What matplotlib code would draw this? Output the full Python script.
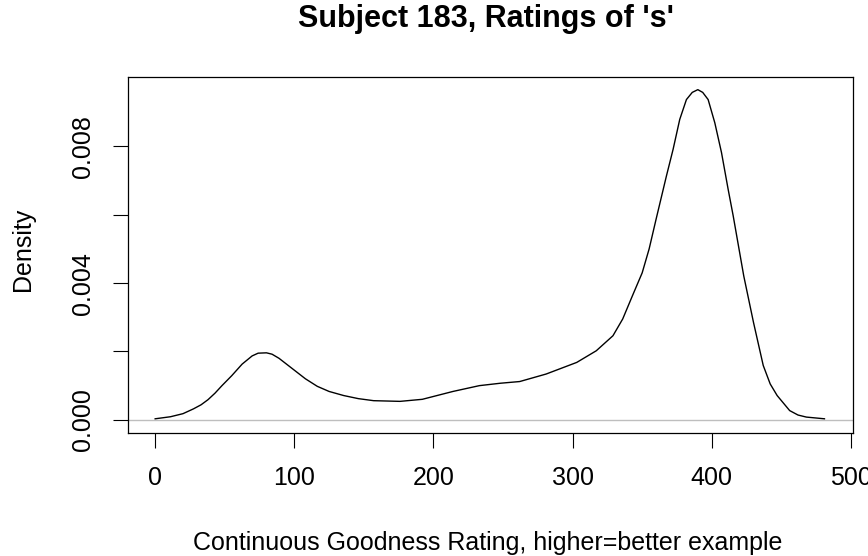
import numpy as np
import matplotlib.pyplot as plt

# density curve (rating, density x 1000)
rating = [0, 11, 20, 27.5, 33, 38, 43, 48, 55, 62.5, 69.7, 74, 80, 84, 89, 98.5,
          108, 116.5, 125, 135.5, 146, 157, 176, 192, 214, 233, 248, 262, 281, 303,
          317, 329, 336, 343, 350, 355, 360, 367.4, 372.2, 377, 381.8, 386, 390,
          393.5, 397.4, 402.2, 407, 411.8, 415.4, 423, 430, 437, 442, 447, 456,
          462, 468, 481]
density = [0.03, 0.09, 0.18, 0.32, 0.44, 0.59, 0.78, 1.00, 1.29, 1.63, 1.87, 1.95,
           1.96, 1.92, 1.80, 1.50, 1.20, 0.98, 0.83, 0.71, 0.62, 0.56, 0.54,
           0.60, 0.83, 1.00, 1.07, 1.12, 1.34, 1.68, 2.02, 2.46, 2.95, 3.63, 4.30,
           5.00, 5.87, 7.13, 7.91, 8.79, 9.37, 9.58, 9.66, 9.58, 9.37, 8.69,
           7.82, 6.74, 5.97, 4.21, 2.85, 1.59, 1.05, 0.71, 0.27, 0.14, 0.08, 0.03]
density = [d / 1000.0 for d in density]

xticks = [0, 100, 200, 300, 400, 500]
yticks = [0.0, 0.002, 0.004, 0.006, 0.008]
ylabels = ["0.000", "", "0.004", "", "0.008"]

plt.rcParams['font.family'] = ['Liberation Sans', 'DejaVu Sans']

fig = plt.figure(figsize=(8.68, 5.56), dpi=100)
ax = fig.add_axes([0.1475, 0.2212, 0.9827 - 0.1475, 0.8615 - 0.2212])

ax.axhline(0, color='#BEBEBE', lw=1.0)
ax.plot(rating, density, color='black', lw=1.0)

# R style 4% padding
ax.set_xlim(-19.5, 501.5)
ax.set_ylim(-0.000386, 0.01003)

ax.set_xticks(xticks)
ax.set_xticklabels([str(v) for v in xticks])
ax.set_yticks(yticks)
ax.set_yticklabels(ylabels, rotation=90, va='center')
ax.tick_params(axis='both', length=10.8, width=0.8, labelsize=18, direction='out')
ax.tick_params(axis='x', pad=13)
ax.tick_params(axis='y', pad=13)
for s in ax.spines.values():
    s.set_linewidth(0.9)

fig.text(0.56, 0.966, "Subject 183, Ratings of 's'", ha='center', va='center',
         fontsize=22, fontweight='bold')
fig.text(0.562, 0.0234, "Continuous Goodness Rating, higher=better example",
         ha='center', va='center', fontsize=18)
fig.text(0.026, 0.552, "Density", rotation=90, ha='center', va='center', fontsize=18)

fig.savefig("out.png", dpi=100)
